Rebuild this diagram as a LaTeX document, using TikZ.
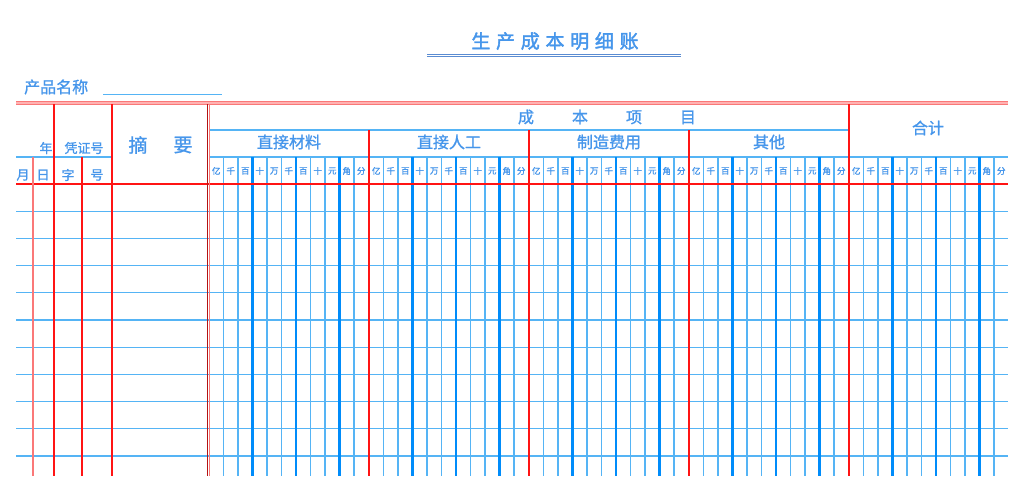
\documentclass[tikz,border=0pt]{standalone}
\usepackage{fontspec}
\newfontfamily\cjk[FakeBold=1.2]{Noto Sans CJK SC}
\newfontfamily\cjkwide[LetterSpace=30,FakeBold=2]{Noto Sans CJK SC}
\definecolor{inkblue}{RGB}{70,150,235}
\definecolor{rulered}{RGB}{255,20,20}
\definecolor{palered}{RGB}{250,120,120}
\definecolor{darkred}{RGB}{180,20,20}
\definecolor{gridblue}{RGB}{85,180,245}
\definecolor{digitblue}{RGB}{0,140,250}
\definecolor{titleline}{RGB}{90,140,210}
\begin{document}
\begin{tikzpicture}[x=1pt,y=-1pt,
    lbl/.style={inner sep=0pt,text=inkblue,font=\cjk\fontsize{13}{13}\selectfont},
    head/.style={lbl,font=\cjk\fontsize{16}{16}\selectfont},
    digit/.style={lbl,font=\cjk\fontsize{8.5}{8.5}\selectfont},
    gridline/.style={gridblue,line width=1.2pt},
    thickline/.style={digitblue,line width=2.2pt},
    redline/.style={rulered,line width=1.2pt}]
  \fill[white] (0,0) rectangle (1024,500);
  \useasboundingbox (0,0) rectangle (1024,500);
  \draw
    (555,41) node[lbl,font=\cjkwide\fontsize{19}{19}\selectfont] (title){生产成本明细账}
    (24,87) node[lbl,anchor=west,font=\cjk\fontsize{16}{16}\selectfont] (name){产品名称}
    (607,117) node[head] (item){成\hspace{38pt}本\hspace{38pt}项\hspace{38pt}目}
    (289,142) node[head] (mat){直接材料}
    (449,142) node[head] (lab){直接人工}
    (609,142) node[head] (mfg){制造费用}
    (769,142) node[head] (oth){其他}
    (928,128) node[head] (sum){合计}
    (46,148) node[lbl] (year){年}
    (84,148) node[lbl] (vouch){凭证号}
    (23,175) node[lbl] (month){月}
    (43,175) node[lbl] (day){日}
    (68,175) node[lbl] (word){字}
    (97,175) node[lbl] (num){号}
    (138,145) node[lbl,font=\cjk\fontsize{19}{19}\selectfont] (abs1){摘}
    (183,145) node[lbl,font=\cjk\fontsize{19}{19}\selectfont] (abs2){要};
  \foreach \s in {0,...,4}
    \foreach \d [count=\j from 0] in {亿,千,百,十,万,千,百,十,元,角,分}
      \node[digit] (d\s-\j) at ({209+160*\s+14.5*(\j+0.5)},171) {\d};
  % title and name underlines
  \draw[titleline,line width=1pt] (427,54.5) -- (681,54.5) (427,57) -- (681,57);
  \draw[gridblue,line width=1.2pt] (103,94.5) -- (222,94.5);
  % blue grid
  \begin{scope}
    \draw[gridline] (16,157) -- (112,157);
    \draw[gridline] (209,130) -- (849,130);
    \draw[gridline] (209,157) -- (1008,157);
    \foreach \k in {1,...,10}
      \draw[gridline] (16,{184+27.2*\k}) -- (1008,{184+27.2*\k});
    \foreach \s in {0,...,4} {
      \foreach \j in {1,2,4,5,7,8,10}
        \draw[gridline] ({209+160*\s+14.5*\j},157) -- ({209+160*\s+14.5*\j},476);
      \foreach \j in {3,6,9}
        \draw[thickline] ({209+160*\s+14.5*\j},157) -- ({209+160*\s+14.5*\j},476);
    }
  \end{scope}
  % red rules
  \begin{scope}
    \fill[red!30] (16,101.5) rectangle (1008,104);
    \draw[palered,line width=0.9pt] (16,101.5) -- (1008,101.5) (16,104) -- (1008,104);
    \draw[redline] (16,184) -- (1008,184);
    \draw[palered,line width=1.2pt] (33,157) -- (33,476);
    \draw[redline] (54,104) -- (54,476);
    \draw[redline] (82,157) -- (82,476);
    \draw[redline] (112,104) -- (112,476);
    \draw[darkred,line width=1pt] (207,104) -- (207,476);
    \draw[palered,line width=1pt] (209.5,104) -- (209.5,476);
    \foreach \x in {369,529,689}
      \draw[redline] (\x,130) -- (\x,476);
    \draw[redline] (849,104) -- (849,476);
  \end{scope}
\end{tikzpicture}
\end{document}
